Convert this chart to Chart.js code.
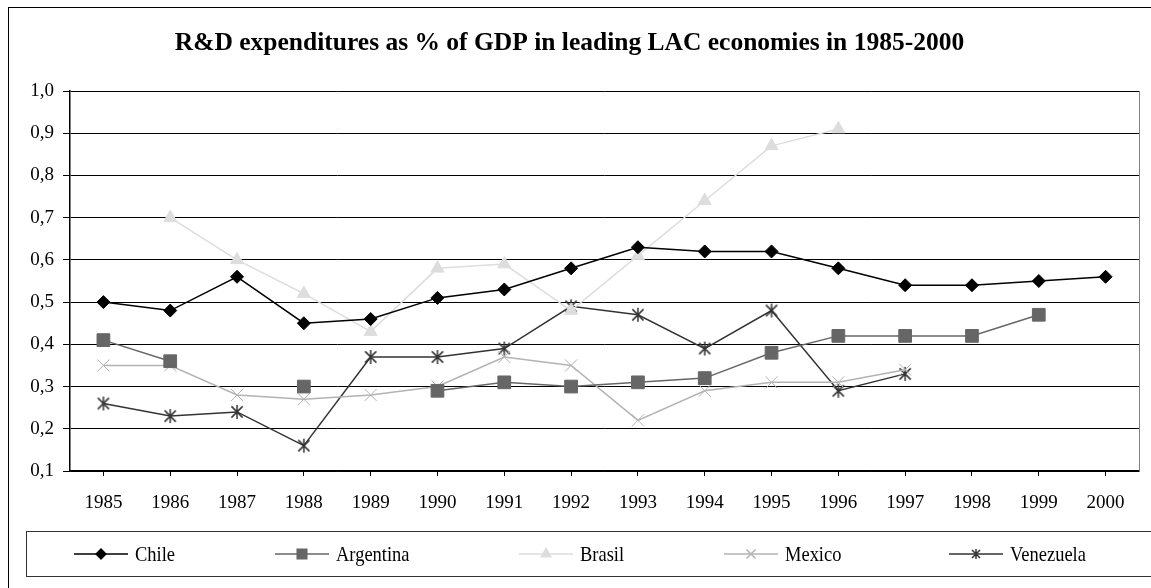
<!doctype html>
<html>
	<head>
		<meta charset="utf-8" />
		<title>R&amp;D expenditures as % of GDP</title>
		<script src="https://cdn.jsdelivr.net/npm/chart.js@4/dist/chart.umd.min.js"></script>
		<style>
			html,
			body {
				margin: 0;
				padding: 0;
				background: #fff;
			}
			#wrap {
				width: 1151px;
				height: 588px;
			}
		</style>
	</head>
	<body>
		<div id="wrap"><canvas id="chart" width="1151" height="588"></canvas></div>
		<script>
			// data
			const years = ["1985", "1986", "1987", "1988", "1989", "1990", "1991", "1992",
				"1993", "1994", "1995", "1996", "1997", "1998", "1999", "2000"];
			const chile = [0.50, 0.48, 0.56, 0.45, 0.46, 0.51, 0.53, 0.58, 0.63, 0.62, 0.62, 0.58, 0.54, 0.54, 0.55, 0.56];
			const argentina = [0.41, 0.36, null, 0.30, null, 0.29, 0.31, 0.30, 0.31, 0.32, 0.38, 0.42, 0.42, 0.42, 0.47, null];
			const brasil = [null, 0.70, 0.60, 0.52, 0.43, 0.58, 0.59, 0.48, 0.61, 0.74, 0.87, 0.91, null, null, null, null];
			const mexico = [0.35, 0.35, 0.28, 0.27, 0.28, 0.30, 0.37, 0.35, 0.22, 0.29, 0.31, 0.31, 0.34, null, null, null];
			const venezuela = [0.26, 0.23, 0.24, 0.16, 0.37, 0.37, 0.39, 0.49, 0.47, 0.39, 0.48, 0.29, 0.33, null, null, null];

			const SERIF = "'Liberation Serif', 'Times New Roman', serif";

			// asterisk marker (X with a vertical stroke)
			function asterisk(size, color) {
				const c = document.createElement("canvas");
				c.width = size;
				c.height = size;
				const g = c.getContext("2d");
				const m = size / 2, r = size / 2 - 1;
				g.strokeStyle = color;
				g.lineWidth = 1.5;
				g.beginPath();
				g.moveTo(m - r * 0.8, m - r * 0.8);
				g.lineTo(m + r * 0.8, m + r * 0.8);
				g.moveTo(m + r * 0.8, m - r * 0.8);
				g.lineTo(m - r * 0.8, m + r * 0.8);
				g.moveTo(m, m - r);
				g.lineTo(m, m + r);
				g.stroke();
				return c;
			}

			const starBig = asterisk(16, "#333");
			const starSmall = asterisk(12, "#333");

			function series(label, data, color, style, radius, legendStyle) {
				return {
					label: label,
					data: data,
					borderColor: color,
					backgroundColor: color,
					borderWidth: 1.5,
					pointStyle: style,
					pointRadius: radius,
					pointHoverRadius: radius,
					pointBorderWidth: 1,
					legendStyle: legendStyle || style,
					spanGaps: false,
					tension: 0,
				};
			}

			const legendStarts = [74, 275, 519, 724, 949];

			const frame = {
				id: "frame",
				beforeDraw(chart) {
					const ctx = chart.ctx;
					ctx.save();
					ctx.fillStyle = "#fff";
					ctx.fillRect(0, 0, chart.width, chart.height);
					ctx.restore();
				},
				afterDraw(chart) {
					const ctx = chart.ctx;
					const a = chart.chartArea;
					ctx.save();
					// right edge of the plot
					ctx.strokeStyle = "#808080";
					ctx.lineWidth = 1;
					ctx.beginPath();
					ctx.moveTo(Math.round(a.right) + 0.5, a.top);
					ctx.lineTo(Math.round(a.right) + 0.5, a.bottom);
					ctx.stroke();

					// outer border
					ctx.strokeStyle = "#000";
					ctx.strokeRect(8.5, 7.5, 1160, 600);

					// legend box
					ctx.strokeStyle = "#333";
					ctx.strokeRect(26.5, 531.5, 1150, 45);

					const y = 554;
					ctx.font = "22px " + SERIF;
					ctx.textBaseline = "middle";
					chart.data.datasets.forEach((ds, i) => {
						const x0 = legendStarts[i];
						ctx.strokeStyle = ds.borderColor;
						ctx.lineWidth = 1.5;
						ctx.beginPath();
						ctx.moveTo(x0, y);
						ctx.lineTo(x0 + 54, y);
						ctx.stroke();
						ctx.fillStyle = ds.backgroundColor;
						ctx.strokeStyle = ds.borderColor;
						Chart.helpers.drawPoint(ctx, {
							pointStyle: ds.legendStyle,
							rotation: 0,
							radius: ds.pointRadius * 0.75,
							borderWidth: 1,
						}, x0 + 27, y);
						// the reference legend text is horizontally condensed
						ctx.save();
						ctx.translate(x0 + 61, y + 1);
						ctx.scale(0.84, 1);
						ctx.fillStyle = "#000";
						ctx.fillText(ds.label, 0, 0);
						ctx.restore();
					});
					ctx.restore();
				},
			};

			new Chart(document.getElementById("chart"), {
				type: "line",
				data: {
					labels: years,
					datasets: [
						series("Chile", chile, "#000", "rectRot", 6.5),
						series("Argentina", argentina, "#666", "rect", 9),
						series("Brasil", brasil, "#ddd", "triangle", 7.5),
						series("Mexico", mexico, "#b3b3b3", "crossRot", 8.5),
						series("Venezuela", venezuela, "#333", starBig, 8, starSmall),
					],
				},
				options: {
					responsive: false,
					animation: false,
					layout: { padding: { top: 0, left: 0, right: 12, bottom: 77 } },
					plugins: {
						legend: { display: false },
						tooltip: { enabled: false },
						title: {
							display: true,
							text: "R&D expenditures as % of GDP in leading LAC economies in 1985-2000",
							color: "#000",
							font: { family: SERIF, size: 25.5, weight: "bold", lineHeight: 1.2 },
							padding: { top: 28, bottom: 32.4 },
						},
					},
					scales: {
						x: {
							offset: true,
							grid: {
								drawOnChartArea: false,
								drawTicks: true,
								tickLength: 5,
								color: "#000",
							},
							border: { color: "#000", width: 1.5 },
							ticks: {
								color: "#000",
								font: { family: SERIF, size: 19 },
								padding: 16,
								maxRotation: 0,
								autoSkip: false,
							},
							afterFit(scale) {
								scale.height = 40;
							},
						},
						y: {
							min: 0.1,
							max: 1.0,
							grid: {
								color: "#000",
								lineWidth: 1,
								tickLength: 7,
							},
							border: { color: "#000", width: 1.5 },
							ticks: {
								stepSize: 0.1,
								color: "#000",
								font: { family: SERIF, size: 19 },
								padding: 9,
								callback: (v) => v.toFixed(1).replace(".", ","),
							},
							afterFit(scale) {
								scale.width = 70;
							},
						},
					},
				},
				plugins: [frame],
			});
		</script>
	</body>
</html>
